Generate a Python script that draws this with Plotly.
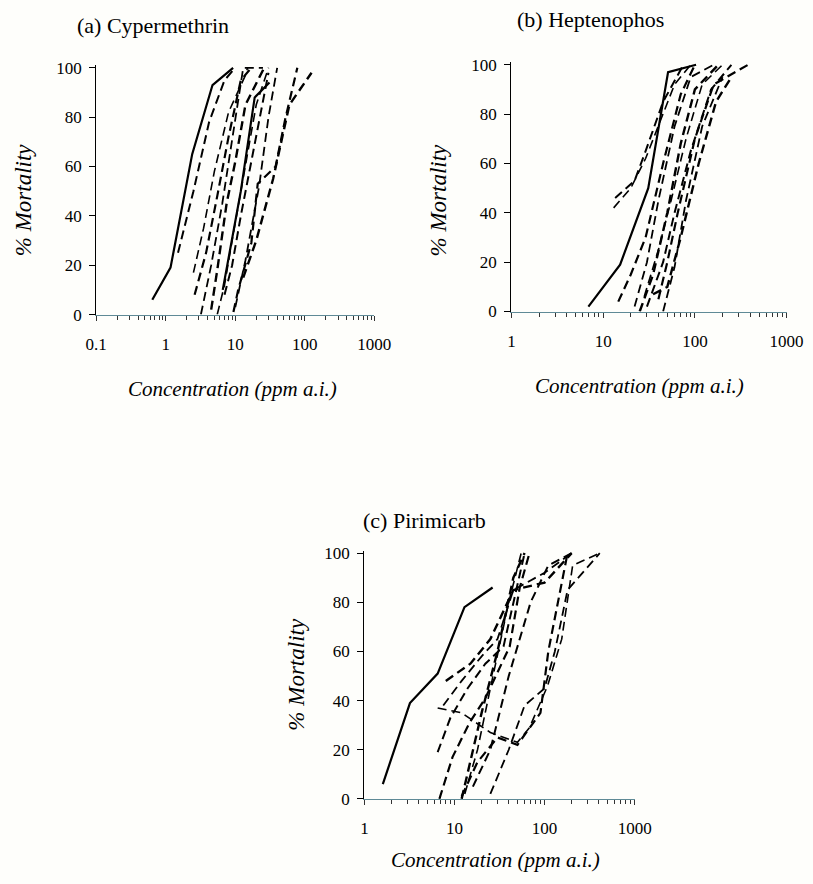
import plotly.graph_objects as go

W, H = 813, 884
K, S = 9.2, 0.972   # mapping from measured reference pixel to figure pixel

# ---------------- data (concentration ppm a.i., % mortality) ----------------
# Panel (a) Cypermethrin
A_SOLID_X = [[0.64, 1.17, 2.4, 4.7, 9.3], [6.6, 12, 19, 31]]
A_SOLID_Y = [[6, 19, 65, 93, 100], [10, 50, 88, 94]]
A_DASH_X = [
    [1.5, 2.5, 4.2, 7, 10],
    [2.5, 3.5, 5, 8, 14, 15],
    [2.6, 3.8, 5.5, 8, 12, 17],
    [3.2, 4.5, 6.5, 9, 13, 25],
    [4.5, 5.5, 7.5, 10, 14, 26],
    [5.5, 7, 9, 13, 20, 30],
    [7, 9, 12, 18, 30],
    [9.4, 11, 17, 21, 38, 52, 78],
    [10, 14, 22, 30, 40],
    [13, 20, 35, 60, 125],
]
A_DASH_Y = [
    [25, 50, 78, 95, 100],
    [17, 35, 58, 82, 97, 100],
    [8, 25, 48, 72, 95, 100],
    [0, 20, 45, 70, 100, 100],
    [2, 18, 45, 62, 85, 100],
    [0, 12, 30, 55, 85, 100],
    [8, 20, 40, 65, 98],
    [1, 10, 29, 53, 60, 79, 100],
    [3, 22, 52, 80, 100],
    [15, 30, 55, 85, 98],
]

# Panel (b) Heptenophos
B_SOLID_X = [[6.9, 15.3, 31, 51, 103]]
B_SOLID_Y = [[2, 19, 50, 97, 100]]
B_DASH_X = [
    [13.5, 22, 29, 45, 75],
    [13, 20, 29, 40, 60, 90],
    [14.6, 20, 29, 45, 70, 100],
    [22, 30, 40, 60, 90, 160],
    [25, 35, 50, 70, 100, 180],
    [28, 40, 55, 80, 120, 200],
    [30, 45, 60, 90, 150, 250],
    [40, 50, 65, 100, 160, 380],
    [45, 60, 80, 120, 200],
    [35, 50, 70, 110, 170, 250],
]
B_DASH_Y = [
    [46, 53, 65, 85, 100],
    [42, 50, 62, 75, 92, 100],
    [4, 15, 30, 60, 88, 100],
    [2, 20, 45, 75, 95, 100],
    [0, 15, 40, 68, 90, 100],
    [6, 25, 45, 70, 92, 100],
    [2, 20, 40, 65, 90, 100],
    [5, 20, 40, 70, 92, 100],
    [0, 18, 45, 75, 95],
    [7, 10, 30, 60, 85, 95],
]

# Panel (c) Pirimicarb
C_SOLID_X = [[1.6, 3.2, 6.5, 12.9, 26.5]]
C_SOLID_Y = [[6, 39, 51, 78, 86]]
C_DASH_X = [
    [6.5, 9, 14, 22, 35, 48, 60],
    [6.5, 12, 25, 50, 68, 108, 155, 205, 410],
    [6.8, 9.5, 14.7, 22, 41, 53, 68],
    [7.5, 12, 20, 30, 45, 100, 200],
    [12, 15, 20, 30, 45, 60],
    [13, 18, 25, 40, 55],
    [16, 25, 40, 70, 110, 200],
    [12, 18, 30, 50, 90, 110, 180],
    [25, 40, 60, 100, 130, 180, 410],
    [8, 15, 25, 45, 100, 200],
]
C_DASH_Y = [
    [19, 33, 45, 55, 62, 85, 100],
    [37, 35, 27, 23, 29, 46, 65, 95, 100],
    [0, 17, 31, 41, 62, 86, 100],
    [38, 48, 58, 65, 85, 92, 100],
    [0, 15, 35, 60, 90, 100],
    [2, 20, 45, 80, 100],
    [5, 20, 50, 80, 95, 100],
    [1, 15, 25, 22, 35, 60, 100],
    [2, 20, 38, 45, 60, 85, 100],
    [48, 55, 65, 85, 88, 100],
]

TITLES = ["(a) Cypermethrin", "(b) Heptenophos", "(c) Pirimicarb"]
Y_TICKS = [0, 20, 40, 60, 80, 100]
X_TICKS_A = [0.1, 1, 10, 100, 1000]
X_TICKS_BC = [1, 10, 100, 1000]

SERIF = "Liberation Serif, Times New Roman, serif"
BG = "#fefefb"


def fx(r):
    return ((r - K) / S) / W


def fy(r):
    return 1 - ((r - K) / S) / H


fig = go.Figure()

panels = [
    dict(sx=A_SOLID_X, sy=A_SOLID_Y, dx=A_DASH_X, dy=A_DASH_Y, xr=[-1, 3], ticks=X_TICKS_A,
         px=(95, 375), py=(67, 314), title=(74, 28), ytitle=(22, 200), xtitle=(232, 388)),
    dict(sx=B_SOLID_X, sy=B_SOLID_Y, dx=B_DASH_X, dy=B_DASH_Y, xr=[0, 3], ticks=X_TICKS_BC,
         px=(513, 790), py=(64, 311), title=(517, 22), ytitle=(440, 200), xtitle=(642, 385)),
    dict(sx=C_SOLID_X, sy=C_SOLID_Y, dx=C_DASH_X, dy=C_DASH_Y, xr=[0, 3], ticks=X_TICKS_BC,
         px=(365, 637), py=(548, 794), title=(362, 518), ytitle=(297, 670), xtitle=(497, 855)),
]

dash_widths = [2, 1.6, 2.2, 1.8, 2.4, 1.6, 2, 2.2, 1.8, 2.4]

for i, p in enumerate(panels):
    n = "" if i == 0 else str(i + 1)
    xa, ya = "x" + n, "y" + n
    for k, (xs, ys) in enumerate(zip(p["dx"], p["dy"])):
        fig.add_trace(go.Scatter(x=xs, y=ys, mode="lines", xaxis=xa, yaxis=ya,
                                 line=dict(color="black", width=dash_widths[k % len(dash_widths)],
                                           dash="9px,5px"),
                                 showlegend=False, hoverinfo="skip"))
    for xs, ys in zip(p["sx"], p["sy"]):
        fig.add_trace(go.Scatter(x=xs, y=ys, mode="lines", xaxis=xa, yaxis=ya,
                                 line=dict(color="black", width=2.2),
                                 showlegend=False, hoverinfo="skip"))
    minor_vals = [k * 10 ** e for e in range(int(p["xr"][0]), int(p["xr"][1])) for k in range(2, 10)]
    fig.layout["xaxis" + n] = dict(
        type="log", range=p["xr"], domain=[fx(p["px"][0]), fx(p["px"][1])], anchor=ya,
        showline=True, linecolor="#5f8a96", linewidth=1.2, showgrid=False, zeroline=False,
        tickmode="array", tickvals=p["ticks"], ticktext=[f"{t:g}" for t in p["ticks"]],
        ticks="outside", ticklen=5, tickcolor="#333", ticklabelstandoff=9,
        tickfont=dict(family=SERIF, size=17, color="black"),
        minor=dict(tickmode="array", tickvals=minor_vals, ticks="outside", ticklen=4, tickcolor="#333",
                   showgrid=False),
    )
    fig.layout["yaxis" + n] = dict(
        range=[0, 101], domain=[fy(p["py"][1]), fy(p["py"][0])], anchor=xa,
        showline=True, linecolor="black", linewidth=1.2, showgrid=False, zeroline=False,
        tickmode="array", tickvals=Y_TICKS, ticks="outside", ticklen=6, tickcolor="black",
        ticklabelstandoff=4,
        tickfont=dict(family=SERIF, size=17, color="black"),
    )
    fig.add_annotation(x=fx(p["title"][0]), y=fy(p["title"][1]), xref="paper", yref="paper",
                       text=TITLES[i], showarrow=False, xanchor="left", yanchor="middle",
                       font=dict(family=SERIF, size=22, color="black"))
    fig.add_annotation(x=fx(p["ytitle"][0]), y=fy(p["ytitle"][1]), xref="paper", yref="paper",
                       text="<i>% Mortality</i>", showarrow=False, textangle=-90,
                       xanchor="center", yanchor="middle",
                       font=dict(family=SERIF, size=23, color="black"))
    fig.add_annotation(x=fx(p["xtitle"][0]), y=fy(p["xtitle"][1]), xref="paper", yref="paper",
                       text="<i>Concentration (ppm a.i.)</i>", showarrow=False,
                       xanchor="center", yanchor="middle",
                       font=dict(family=SERIF, size=21, color="black"))

fig.update_layout(width=W, height=H, margin=dict(l=0, r=0, t=0, b=0),
                  paper_bgcolor=BG, plot_bgcolor=BG)

fig.write_html("out.html",
               config={"displayModeBar": False, "staticPlot": True},
               post_script="document.body.style.margin='0';document.body.style.overflow='hidden';")
